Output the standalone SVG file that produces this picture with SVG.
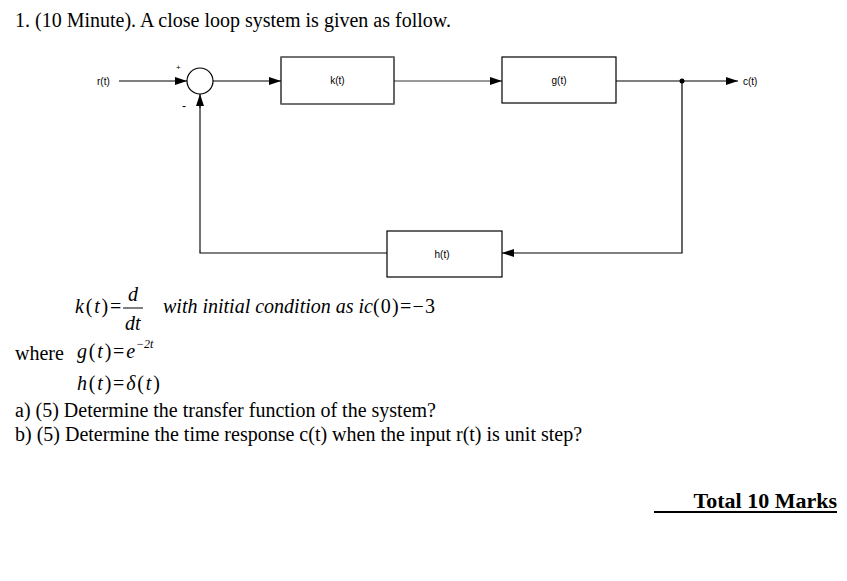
<svg xmlns="http://www.w3.org/2000/svg" width="847" height="581" viewBox="0 0 847 581">
<style>
.t{font-family:"Liberation Serif",serif;font-size:20px;fill:#000}
.m{font-family:"Liberation Serif",serif;font-size:20px;font-style:italic;fill:#000}
.sp{letter-spacing:1.8px}
.mu{font-style:normal}
.l{font-family:"Liberation Sans",Arial,sans-serif;font-size:10px;fill:#000}
.box{fill:#fff;stroke:#000;stroke-width:1.2}
.w{fill:none;stroke:#000;stroke-width:1.2}
.g{fill:none;stroke:#777;stroke-width:1.5}
</style>
<defs>
<marker id="ar" viewBox="0 0 12 8" refX="12" refY="4" markerWidth="12" markerHeight="8" markerUnits="userSpaceOnUse" orient="auto">
<path d="M0,0 L12,4 L0,8 z" fill="#000"/>
</marker>
</defs>
<rect width="847" height="581" fill="#fff"/>
<text class="t" x="15" y="27">1. (10 Minute). A close loop system is given as follow.</text>

<g id="connectors">
<line class="w" x1="119" y1="81" x2="187" y2="81" marker-end="url(#ar)"/>
<line class="w" x1="213" y1="81" x2="281" y2="81" marker-end="url(#ar)"/>
<line class="g" x1="394" y1="81" x2="502" y2="81" marker-end="url(#ar)"/>
<line class="w" x1="616" y1="81" x2="738" y2="81" marker-end="url(#ar)"/>
<polyline class="w" points="682,81 682,253 502,253" marker-end="url(#ar)"/>
<polyline class="w" points="387,253 200,253 200,108"/>
<line class="g" x1="200" y1="250" x2="200" y2="105"/>
<line class="w" x1="200" y1="108" x2="200" y2="94" marker-end="url(#ar)"/>
<circle cx="682" cy="81" r="2.5" fill="#000"/>
</g>

<g id="input"><text class="l" x="97" y="85">r(t)</text></g>
<g id="sum">
<circle class="box" cx="200" cy="81" r="13"/>
<text class="l" x="176" y="70" style="font-size:8px">+</text>
<text class="l" x="182" y="110" style="font-size:12px">-</text>
</g>
<g id="k">
<rect class="box" x="281" y="57" width="113" height="47"/>
<line class="g" x1="281" y1="57" x2="394" y2="57"/>
<line class="g" x1="281" y1="104" x2="394" y2="104"/>
<text class="l" x="337.5" y="84" text-anchor="middle">k(t)</text>
</g>
<g id="gbox">
<rect class="box" x="502" y="57" width="114" height="46"/>
<text class="l" x="559" y="84" text-anchor="middle">g(t)</text>
</g>
<g id="output"><text class="l" x="743" y="85">c(t)</text></g>
<g id="h">
<rect class="box" x="387" y="231" width="115" height="46"/>
<text class="l" x="442" y="258" text-anchor="middle">h(t)</text>
</g>

<text class="m sp" x="75" y="313">k<tspan class="mu">(</tspan>t<tspan class="mu">)=</tspan></text>
<text class="m" x="128" y="301">d</text>
<line x1="123" y1="308" x2="143" y2="308" stroke="#000" stroke-width="1"/>
<text class="m" x="125" y="330">dt</text>
<text class="m" x="163" y="313">with initial condition as  ic<tspan class="mu" style="letter-spacing:1.2px">(0)=−3</tspan></text>

<text class="t" x="15" y="360">where</text>
<text class="m sp" x="77" y="358">g<tspan class="mu">(</tspan>t<tspan class="mu">)=</tspan>e</text>
<text class="m" x="136" y="348" style="font-size:12px">−2t</text>
<text class="m sp" x="77" y="390">h<tspan class="mu">(</tspan>t<tspan class="mu">)=</tspan>δ<tspan class="mu">(</tspan>t<tspan class="mu">)</tspan></text>

<text class="t" x="15" y="417">a) (5) Determine the transfer function of the system?</text>
<text class="t" x="15" y="441">b) (5) Determine the time response c(t) when the input r(t) is unit step?</text>

<text class="t" x="837" y="508" text-anchor="end" font-weight="bold" style="font-size:22px">Total 10 Marks</text>
<line x1="654" y1="512" x2="837" y2="512" stroke="#000" stroke-width="2"/>
</svg>
